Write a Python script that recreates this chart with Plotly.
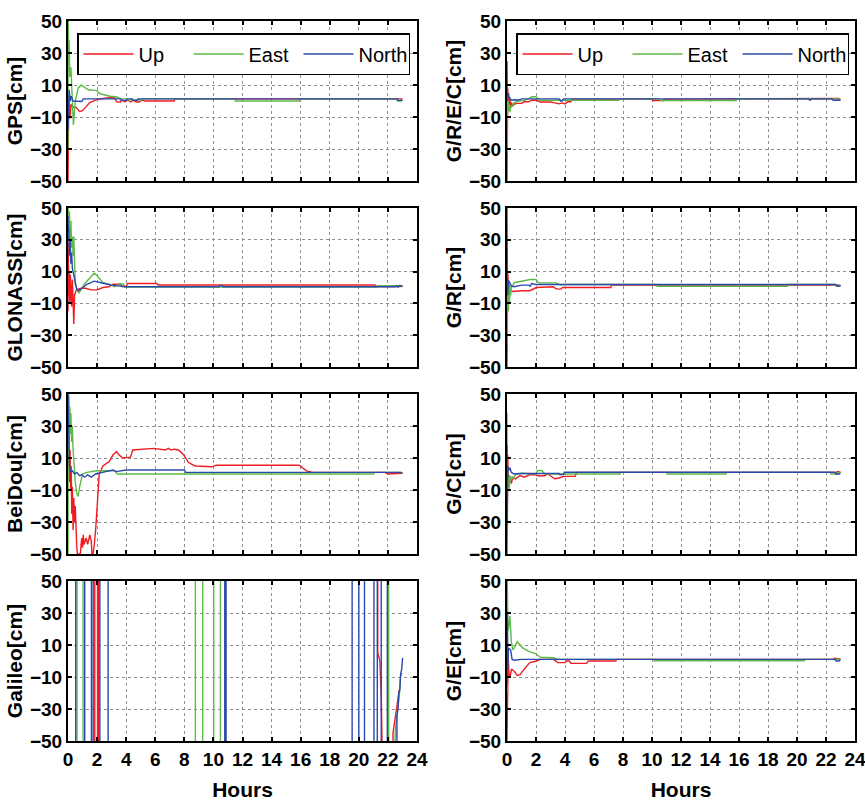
import plotly.graph_objects as go

# ---------------- data (hours, cm) ----------------
PANEL_TITLES = ["GPS[cm]", "GLONASS[cm]", "BeiDou[cm]", "Galileo[cm]",
                "G/R/E/C[cm]", "G/R[cm]", "G/C[cm]", "G/E[cm]"]
SERIES_NAMES = ["Up", "East", "North"]
X_TICKS = [0, 2, 4, 6, 8, 10, 12, 14, 16, 18, 20, 22, 24]
Y_TICKS = [-50, -30, -10, 10, 30, 50]

# GPS
GPS_UP_T = [0, 0.02, 0.05, 0.1, 0.15, 0.2, 0.25, 0.4, 0.55, 0.8, 1.0, 1.2, 1.5, 2.0, 2.5, 2.9, 3.2, 3.35, 3.6, 3.75, 3.9, 4.1, 4.3, 4.5, 4.7, 4.9, 5.1, 5.3, 7.3, 7.35, 23.0]
GPS_UP = [-50, -20, 3, -4, -11, -2, -3, -4, -4, -6.5, -6, -4, -1, 1, 1.5, 2.2, 2, -0.5, -0.6, 0.6, -0.6, 0.6, -0.6, 0.5, -0.6, -0.6, 0.6, 0, 0, 1.3, 1.3]
GPS_EAST_T = [0, 0.01, 0.04, 0.08, 0.12, 0.2, 0.27, 0.37, 0.5, 0.7, 0.9, 1.15, 1.4, 2.0, 2.2, 2.9, 3.4, 3.6, 4.0, 4.2, 4.4, 4.6, 4.8, 5.0, 5.2, 5.5, 11.5, 11.51, 15.9, 15.91, 22.6, 22.65, 22.9, 23.0]
GPS_EAST = [-30, 50, 36, 38, 15, 21, 5, -15, 0, 8, 10, 8.5, 7, 6.5, 4.5, 3, 2.5, 1.3, 1.3, 0.5, 1.3, 0.5, 1.3, 0.5, 1.3, 1.3, 1.3, 0, 0, 1.3, 1.3, 0, 0, 0.8]
GPS_NORTH_T = [0, 0.04, 0.08, 0.15, 0.22, 0.35, 0.6, 0.95, 1.05, 3.6, 3.65, 4.0, 4.05, 4.4, 4.45, 4.8, 4.85, 22.6, 22.7, 22.9, 23.0]
GPS_NORTH = [-18, 2, 7, 0, 3, 0, -0.3, -0.3, 1.3, 1.3, 0.4, 0.4, 1.3, 1.3, 0.4, 0.4, 1.3, 1.3, 0.4, 0.4, 0.9]

# GLONASS
GLO_UP_T = [0, 0.02, 0.05, 0.08, 0.12, 0.16, 0.2, 0.25, 0.3, 0.35, 0.4, 0.45, 0.55, 0.7, 0.9, 1.2, 1.6, 2.0, 2.4, 2.8, 3.1, 3.6, 3.7, 4.0, 4.1, 6.1, 6.2, 21.1, 21.2, 22.9, 23.0]
GLO_UP = [-15, 28, -5, 10, -10, 8, -8, -12, 5, -18, -23, -5, -2, -1, -0.5, -0.5, -1.5, -1.5, 0, 0.5, 2, 2, 0.6, 0.6, 2.5, 2.5, 1.6, 1.6, 0.6, 0.6, 1.0]
GLO_EAST_T = [0, 0.02, 0.05, 0.1, 0.15, 0.2, 0.25, 0.3, 0.35, 0.4, 0.45, 0.5, 0.6, 0.75, 0.9, 1.2, 1.5, 1.8, 2.0, 2.4, 2.9, 3.2, 3.5, 3.8, 3.9, 21.2, 21.3, 22.9, 23.0]
GLO_EAST = [50, 45, 35, 48, 30, 42, 25, 32, 20, 32, 5, 2, -1, -3.5, -1, 3, 6, 9, 7.5, 3, 2, 0.5, 2.2, 2.2, 0.3, 0.3, 1.2, 1.2, 0.6]
GLO_NORTH_T = [0, 0.02, 0.05, 0.1, 0.15, 0.2, 0.25, 0.3, 0.4, 0.5, 0.6, 0.75, 1.0, 1.3, 1.8, 2.2, 2.5, 3.0, 3.5, 4.0, 10.4, 10.45, 10.6, 10.65, 22.5, 22.6, 22.7, 22.8, 23.0]
GLO_NORTH = [45, 30, 38, 20, 30, 15, 22, 12, 8, 2, -1, -2, 0, 2, 4, 3, 2.5, 1.5, 1.2, 0.5, 0.5, 1.2, 1.2, 0.5, 0.5, 1.2, 0.2, 1.2, 0.8]

# BeiDou
BDS_UP_T = [0, 0.03, 0.06, 0.1, 0.14, 0.18, 0.22, 0.26, 0.3, 0.35, 0.4, 0.45, 0.5, 0.55, 0.6, 0.65, 0.75, 0.85, 0.9, 0.95, 1.0, 1.05, 1.1, 1.15, 1.25, 1.35, 1.5, 1.6, 1.65, 1.72, 1.8, 1.9, 2.0, 2.05, 2.15, 2.4, 2.85, 3.1, 3.35, 3.5, 3.75, 4.3, 4.45, 5.9, 6.7, 6.9, 7.1, 7.3, 7.6, 7.95, 8.3, 8.75, 9.9, 10.2, 11.0, 15.9, 16.4, 16.8, 21.8, 22.0, 23.0]
BDS_UP = [25, 10, 28, -5, 15, -10, 5, -25, -8, -35, -15, -30, -20, -36, -45, -50, -50, -50, -44, -40, -46, -38, -44, -42, -40, -44, -38, -42, -50, -50, -45, -35, -20, -15, 0, 5, 8, 12, 14, 12, 10, 10.5, 15, 16, 15, 16, 15, 15.5, 15, 12, 7, 5, 4.5, 5.5, 5.5, 5.5, 2, 1, 1, 0, 0.5]
BDS_EAST_T = [0, 0.02, 0.04, 0.07, 0.1, 0.13, 0.16, 0.2, 0.25, 0.3, 0.35, 0.4, 0.5, 0.6, 0.7, 0.8, 0.9, 1.0, 1.3, 1.5, 2.0, 3.2, 3.4, 21.0, 21.1, 22.9, 23.0]
BDS_EAST = [-50, 50, 35, 48, 28, 42, 25, 38, 20, 30, 15, 5, -5, -12, -14, -8, -3, 0, 1, 1.2, 2, 2, 0, 0, 1, 1, 0.2]
BDS_NORTH_T = [0, 0.03, 0.06, 0.1, 0.15, 0.2, 0.3, 0.45, 0.6, 0.8, 0.95, 1.15, 1.35, 1.6, 1.9, 2.3, 2.6, 3.1, 3.3, 4.0, 8.0, 8.1, 22.9, 23.0]
BDS_NORTH = [50, 30, 18, 5, 2.5, 1, 2, 0, 1, -1, -0.5, -2, -0.5, -2, 0, 1, 1.5, 2.5, 1.5, 2.5, 2.5, 1, 1, 0.3]

# Galileo (values of +/-500 are far outside the plotted range)
GAL_UP_T = [0, 1.84, 1.84, 2.03, 2.03, 2.12, 2.12, 21.3, 21.3, 21.45, 21.55, 21.6, 21.6, 22.35, 22.35, 22.45, 22.55, 22.62, 22.7, 22.78]
GAL_UP = [-500, -500, 500, 500, -500, -500, 500, 500, 5, 0, -25, -35, -500, -500, -45, -38, -33, -28, -20, -18]
GAL_EAST_T = [0, 0.62, 0.62, 1.04, 1.04, 8.76, 8.76, 9.26, 9.26, 10.02, 10.02, 10.48, 10.48, 22.05, 22.05, 22.5, 22.5, 22.6, 22.7, 22.8, 22.85, 22.92, 23.0]
GAL_EAST = [500, 500, -500, -500, 500, 500, -500, -500, 500, 500, -500, -500, 500, 500, -500, -500, -45, -35, -28, -20, -10, -8, -8]
GAL_NORTH_T = [0, 0.53, 0.53, 1.15, 1.15, 1.61, 1.61, 1.73, 1.73, 2.19, 2.19, 2.76, 2.76, 10.78, 10.78, 10.87, 10.87, 19.54, 19.54, 20.0, 20.0, 20.39, 20.39, 21.04, 21.04, 21.27, 21.27, 21.54, 21.54, 21.96, 21.96, 22.62, 22.62, 22.7, 22.75, 22.82, 22.88, 22.95, 23.0, 23.02]
GAL_NORTH = [500, 500, -500, -500, 500, 500, -500, -500, 500, 500, -500, -500, 500, 500, -500, -500, 500, 500, -500, -500, 500, 500, -500, -500, 500, 500, -500, -500, 500, 500, -500, -500, -34, -30, -20, -18, -8, -5, 1, 2]

# G/R/E/C
GREC_UP_T = [0, 0.02, 0.05, 0.08, 0.12, 0.16, 0.2, 0.25, 0.3, 0.4, 0.5, 0.7, 1.0, 1.2, 1.5, 1.7, 2.0, 2.3, 2.6, 3.0, 3.3, 3.6, 3.8, 4.0, 4.2, 4.4, 4.5, 10.0, 10.05, 10.8, 10.85, 22.4, 22.5, 22.9, 23.0]
GREC_UP = [-50, -34, 8, -3, 5, -5, 2, -4, -1, -3, -2, -1.5, -1.5, -0.5, -0.5, 0.5, 0.5, -0.6, -0.6, -0.6, -1.2, -1.8, -1.2, -1.8, -0.5, -0.5, 1.2, 1.2, 0.3, 0.3, 1.2, 1.2, 1.6, 1.6, 0.8]
GREC_EAST_T = [0, 0.02, 0.05, 0.08, 0.12, 0.16, 0.2, 0.25, 0.3, 0.4, 0.5, 0.8, 1.2, 1.5, 1.7, 2.0, 2.1, 2.3, 7.7, 7.75, 10.5, 10.55, 15.8, 15.85, 22.9, 23.0]
GREC_EAST = [-33, 5, -8, 0, -6, -2, -7, -3, -4, -2, -1, 0, 0.5, 1.5, 2.7, 2.7, 1.5, 0.5, 0.5, 1.3, 1.3, 0.3, 0.3, 1.3, 1.3, 0.8]
GREC_NORTH_T = [0, 0.02, 0.05, 0.1, 0.2, 0.3, 0.5, 0.8, 1.0, 3.6, 3.7, 3.8, 3.9, 20.8, 20.9, 21.0, 22.4, 22.5, 23.0]
GREC_NORTH = [25, 0, 5, 3, 2, 0.5, 0.8, 0.6, 1.3, 1.3, 0, 0, 1.3, 1.3, 0.5, 1.3, 1.3, 0.5, 0.5]

# G/R
GR_UP_T = [0, 0.02, 0.05, 0.1, 0.15, 0.25, 0.43, 1.0, 1.57, 2.03, 3.17, 3.35, 3.5, 3.7, 3.85, 7.16, 7.2, 22.9, 23.0]
GR_UP = [-50, -35, 9, 3, 0, -2, -2.5, -2, -2, 0, 0.5, -0.5, -1, -1, 0, 0, 1.5, 1.5, 1.0]
GR_EAST_T = [0, 0.02, 0.04, 0.07, 0.1, 0.13, 0.17, 0.2, 0.25, 0.3, 0.4, 0.5, 0.8, 1.2, 1.6, 2.0, 2.2, 3.4, 3.7, 4.0, 10.3, 10.35, 19.35, 19.4, 22.6, 22.7, 22.9, 23.0]
GR_EAST = [-35, 24, -15, 5, -15, 0, -10, 2, -5, 0, 1, 3, 3.5, 4.4, 5, 5, 2.9, 2.9, 1.5, 1.9, 1.9, 0.8, 0.8, 1.9, 1.9, 0.8, 0.8, 1.2]
GR_NORTH_T = [0, 0.02, 0.05, 0.1, 0.2, 0.3, 0.5, 0.8, 1.0, 1.5, 1.6, 1.7, 2.0, 22.7, 22.8, 22.9, 23.0]
GR_NORTH = [50, -5, -4, 4.5, 3, 1, 0.5, 1, 1.5, 1.5, 0.8, 2.5, 1.9, 1.9, 0.8, 0.8, 1.5]

# G/C
GC_UP_T = [0, 0.02, 0.05, 0.1, 0.15, 0.2, 0.3, 0.4, 0.6, 0.9, 1.2, 1.55, 2.0, 2.1, 2.6, 2.8, 3.1, 3.3, 3.6, 3.9, 4.7, 4.8, 22.7, 22.8, 23.0]
GC_UP = [-50, -35, 12, -5, -1, -2, -6, -2, -3, -1, -2, -0.5, -0.5, -1.1, -1.1, 0, -2, -3, -2.5, -1.5, -1.5, 1, 1, 1.5, 1.2]
GC_EAST_T = [0, 0.02, 0.05, 0.08, 0.12, 0.16, 0.2, 0.25, 0.35, 0.45, 0.6, 1.0, 2.0, 2.1, 2.4, 2.6, 7.8, 7.85, 11.0, 11.05, 15.1, 15.15, 22.3, 22.35, 22.8, 22.85, 23.0]
GC_EAST = [38, -10, 2, -8, -2, -10, -1, -4, -2, -3, 0, 0.5, 0, 2.2, 2.2, 0, 0, 1, 1, 0, 0, 1, 1, 0, 0, 1, 1]
GC_NORTH_T = [0, 0.02, 0.05, 0.1, 0.2, 0.3, 0.5, 1.0, 3.6, 3.65, 3.9, 3.95, 22.6, 22.7, 22.9, 23.0]
GC_NORTH = [18, -30, 5, 2, 4, 1, 0, 0.3, 0.3, -0.3, -0.3, 1.1, 1.1, 0, 0, 0.6]

# G/E
GE_UP_T = [0, 0.03, 0.08, 0.15, 0.2, 0.32, 0.55, 0.7, 0.9, 1.1, 1.35, 1.57, 2.03, 2.3, 3.2, 3.5, 4.0, 4.1, 4.3, 4.4, 5.5, 5.6, 7.5, 7.55, 22.5, 22.6, 23.0]
GE_UP = [-50, -22, 3, -10, -10, -5, -7, -9, -8.5, -6, -3, -1, 0, 1, 1, -1, -1, 0, 0, -1.5, -1.5, 0, 0, 1, 1, 1.7, 1.2]
GE_EAST_T = [0, 0.02, 0.06, 0.1, 0.2, 0.3, 0.4, 0.55, 0.7, 0.9, 1.1, 1.5, 2.0, 2.3, 3.2, 3.5, 3.8, 10.1, 10.15, 20.5, 20.55, 23.0]
GE_EAST = [-20, 50, 19, 20, 28, 12, 7, 9, 12, 10, 8, 6, 4.5, 2.3, 2, 1, 1, 1, 0.2, 0.2, 1, 1]
GE_NORTH_T = [0, 0.03, 0.06, 0.1, 0.25, 0.35, 0.5, 1.0, 22.6, 22.7, 22.9, 23.0]
GE_NORTH = [-15, 30, -5, 8, 7, 1, 0.5, 1, 1, 0, 0, 1]

PANEL_DATA = [
    [(GPS_UP_T, GPS_UP), (GPS_EAST_T, GPS_EAST), (GPS_NORTH_T, GPS_NORTH)],
    [(GLO_UP_T, GLO_UP), (GLO_EAST_T, GLO_EAST), (GLO_NORTH_T, GLO_NORTH)],
    [(BDS_UP_T, BDS_UP), (BDS_EAST_T, BDS_EAST), (BDS_NORTH_T, BDS_NORTH)],
    [(GAL_UP_T, GAL_UP), (GAL_EAST_T, GAL_EAST), (GAL_NORTH_T, GAL_NORTH)],
    [(GREC_UP_T, GREC_UP), (GREC_EAST_T, GREC_EAST), (GREC_NORTH_T, GREC_NORTH)],
    [(GR_UP_T, GR_UP), (GR_EAST_T, GR_EAST), (GR_NORTH_T, GR_NORTH)],
    [(GC_UP_T, GC_UP), (GC_EAST_T, GC_EAST), (GC_NORTH_T, GC_NORTH)],
    [(GE_UP_T, GE_UP), (GE_EAST_T, GE_EAST), (GE_NORTH_T, GE_NORTH)],
]

# ---------------- styling ----------------
W, H = 865, 802
COLORS = ["#ee1d23", "#5cbb46", "#2b48ad"]
FONT = "Liberation Sans Narrow, Arial Narrow, Liberation Sans, Arial, sans-serif"
COL_X = [(68, 417), (507, 855)]
ROW_Y = [(21, 181), (208, 367), (394, 554), (581, 741)]

fig = go.Figure()
layout = dict(
    width=W, height=H, margin=dict(l=0, r=0, t=0, b=0, autoexpand=False),
    paper_bgcolor="white", plot_bgcolor="white", showlegend=True,
)

for p in range(8):
    col, row = divmod(p, 4)
    n = p + 1
    xs = "" if n == 1 else str(n)
    x0, x1 = COL_X[col]
    y0, y1 = ROW_Y[row]
    bottom = row == 3
    common = dict(
        showline=True, linecolor="black", linewidth=2, mirror="allticks",
        ticks="inside", ticklen=4, tickwidth=1.5, tickcolor="black",
        showgrid=True, gridcolor="#8f8f8f", griddash="dot", gridwidth=1,
        zeroline=False, automargin=False, ticklabeloverflow="allow",
        tickfont=dict(family=FONT, size=19, color="black", weight="bold"),
    )
    layout["xaxis" + xs] = dict(
        common, domain=[x0 / W, x1 / W], anchor="y" + xs, range=[0, 24],
        tickvals=X_TICKS, showticklabels=bottom,
        title=dict(text="Hours" if bottom else "", standoff=14,
                   font=dict(family=FONT, size=21, color="black", weight="bold")),
    )
    layout["yaxis" + xs] = dict(
        common, domain=[1 - y1 / H, 1 - y0 / H], anchor="x" + xs, range=[-50, 50],
        tickvals=Y_TICKS,
        title=dict(text=PANEL_TITLES[p], standoff=2,
                   font=dict(family=FONT, size=21, color="black", weight="bold")),
    )
    for s in range(3):
        t, v = PANEL_DATA[p][s]
        leg = None
        if p == 0:
            leg = "legend"
        elif p == 4:
            leg = "legend2"
        tr = dict(
            x=t, y=v, mode="lines", name=SERIES_NAMES[s],
            line=dict(color=COLORS[s], width=1.4),
            xaxis="x" + xs, yaxis="y" + xs,
            showlegend=leg is not None,
        )
        if leg:
            tr["legend"] = leg
        fig.add_trace(go.Scatter(**tr))

legend_common = dict(
    orientation="h", bgcolor="white", bordercolor="black", borderwidth=1.5,
    font=dict(family=FONT, size=20, color="black"),
    itemwidth=50, entrywidth=45, entrywidthmode="pixels",
    xanchor="left", yanchor="top", y=1 - 33 / H, itemclick=False,
)
layout["legend"] = dict(legend_common, x=77 / W)
layout["legend2"] = dict(legend_common, x=516 / W)

fig.update_layout(**layout)
fig.write_html(
    "out.html",
    config={"displayModeBar": False},
    post_script="document.body.style.margin='0';document.body.style.overflow='hidden';",
)
